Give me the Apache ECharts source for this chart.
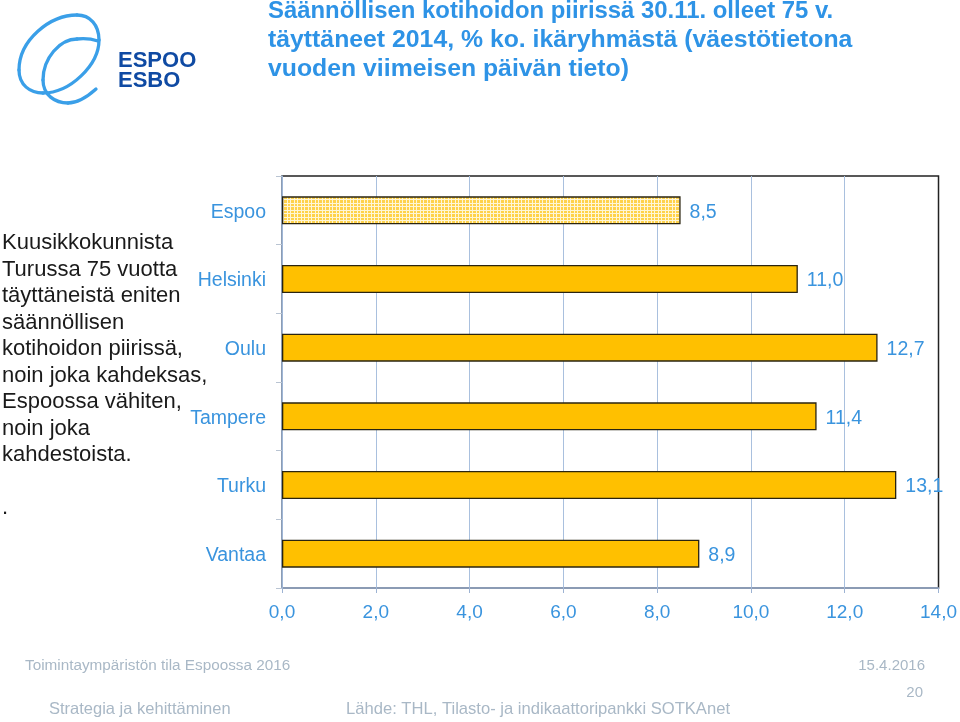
<!DOCTYPE html>
<html>
<head>
<meta charset="utf-8">
<style>
  html, body { margin: 0; padding: 0; background: #fff; }
  #chart { width: 960px; height: 722px; }
</style>
<script src="https://cdn.jsdelivr.net/npm/echarts@6/dist/echarts.min.js"></script>
</head>
<body>
<div id="chart"></div>
<script>
var cities = ['Espoo', 'Helsinki', 'Oulu', 'Tampere', 'Turku', 'Vantaa'];
var shares = [8.5, 11.0, 12.7, 11.4, 13.1, 8.9];
var titleLines = [
  'Säännöllisen kotihoidon piirissä 30.11. olleet 75 v.',
  'täyttäneet 2014, % ko. ikäryhmästä (väestötietona',
  'vuoden viimeisen päivän tieto)'
];
var noteLines = [
  'Kuusikkokunnista', 'Turussa 75 vuotta', 'täyttäneistä eniten', 'säännöllisen',
  'kotihoidon piirissä,', 'noin joka kahdeksas,', 'Espoossa vähiten,', 'noin joka',
  'kahdestoista.', '', '.'
];

var blue = '#3a94de';
var grey = '#a9b8c6';
var font = '"Liberation Sans", Arial, sans-serif';
var titleSizes = [23.9, 24.8, 24.8];

// ruudukkokuvio Espoon palkille
function checkPattern() {
  var c = document.createElement('canvas');
  c.width = 7;
  c.height = 7;
  var ctx = c.getContext('2d');
  ctx.fillStyle = '#ffd24a';
  ctx.fillRect(0, 0, 7, 7);
  ctx.fillStyle = '#fff6d6';
  [0, 3].forEach(function (p) {
    ctx.fillRect(p, 0, 1, 7);
    ctx.fillRect(0, p, 7, 1);
  });
  return { image: c, repeat: 'repeat' };
}

function text(x, y, str, size, color, align, weight) {
  return {
    type: 'text', x: x, y: y, silent: true, z: 10,
    style: { text: str, fontFamily: font, fontSize: size, fontWeight: weight || 'normal', fill: color, align: align || 'left', verticalAlign: 'middle' }
  };
}

function curve(x1, y1, cx1, cy1, cx2, cy2, x2, y2) {
  return {
    type: 'bezierCurve', silent: true,
    shape: { x1: x1, y1: y1, cpx1: cx1, cpy1: cy1, cpx2: cx2, cpy2: cy2, x2: x2, y2: y2 },
    style: { fill: 'none', stroke: '#3a9fe8', lineWidth: 3.3, lineCap: 'round' }
  };
}

var graphics = [
  // logo
  curve(96, 89, 86, 98, 77, 103, 68, 103),
  curve(68, 103, 55, 103, 43, 95, 43, 80),
  curve(43, 80, 43, 58, 60, 39, 77, 39),
  curve(77, 39, 85, 38, 92, 39, 98, 41),
  curve(99, 40, 99, 25, 90, 15, 77, 15),
  curve(77, 15, 50, 15, 19, 40, 19, 70),
  curve(19, 70, 19, 85, 30, 93, 43, 93),
  curve(43, 93, 70, 93, 99, 65, 99, 40),
  text(118, 61, 'ESPOO', 22, '#0f4aa3', 'left', 'bold'),
  text(118, 81, 'ESBO', 22, '#0f4aa3', 'left', 'bold'),
  // alatunniste
  text(25, 666, 'Toimintaympäristön tila Espoossa 2016', 15.3, grey),
  text(925, 666, '15.4.2016', 15, grey, 'right'),
  text(923, 693, '20', 15, grey, 'right'),
  text(49, 709, 'Strategia ja kehittäminen', 16.5, grey),
  text(346, 709, 'Lähde: THL, Tilasto- ja indikaattoripankki SOTKAnet', 16.6, grey)
];

titleLines.forEach(function (line, i) {
  graphics.push(text(268, 11.5 + i * 29, line, titleSizes[i], '#2e93e6', 'left', 'bold'));
});
noteLines.forEach(function (line, i) {
  if (line) graphics.push(text(2, 243 + i * 26.5, line, 22, '#1a1a1a'));
});

var chart = echarts.init(document.getElementById('chart'));
chart.setOption({
  animation: false,
  graphic: graphics,
  grid: { left: 282, top: 176, width: 657.5, height: 412, show: true, borderColor: '#222', borderWidth: 1.5, backgroundColor: 'transparent' },
  xAxis: {
    type: 'value', min: 0, max: 14, interval: 2,
    axisLine: { show: true, lineStyle: { color: '#9db3d3', width: 1.5 } },
    axisTick: { show: true, length: 5, lineStyle: { color: '#9db3d3' } },
    splitLine: { show: true, showMaxLine: false, lineStyle: { color: '#a9c0de', width: 1 } },
    axisLabel: {
      color: blue, fontFamily: font, fontSize: 19, margin: 15,
      formatter: function (v) { return v.toFixed(1).replace('.', ','); }
    }
  },
  yAxis: {
    type: 'category', data: cities, inverse: true,
    axisLine: { show: true, lineStyle: { color: '#9db3d3', width: 1.5 } },
    axisTick: { show: true, length: 6, lineStyle: { color: '#b9c4d2' } },
    axisLabel: { color: blue, fontFamily: font, fontSize: 19.5, margin: 16, verticalAlign: 'top', padding: [-8, 0, 0, 0] }
  },
  series: [{
    type: 'bar',
    data: shares.map(function (v, i) {
      return i === 0 ? { value: v, itemStyle: { color: checkPattern() } } : v;
    }),
    barWidth: 28,
    itemStyle: { color: '#ffc000', borderColor: '#2a2410', borderWidth: 1.3 },
    label: {
      show: true, position: 'right', distance: 9, offset: [0, 2], color: blue, fontFamily: font, fontSize: 19.5,
      formatter: function (p) { return p.value.toFixed(1).replace('.', ','); }
    }
  }]
});
</script>
</body>
</html>
